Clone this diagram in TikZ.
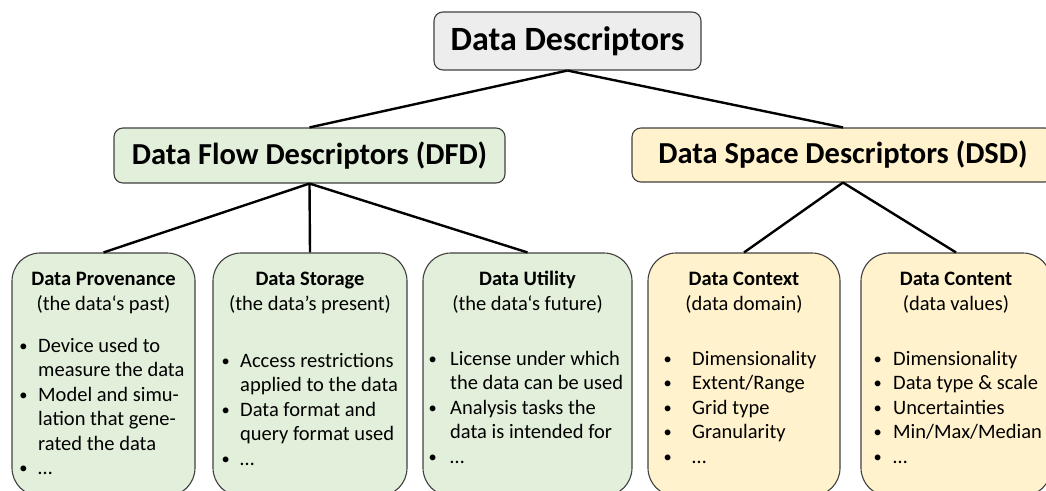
\documentclass[tikz,border=0pt]{standalone}
\usepackage{fontspec}
\setmainfont{Carlito}
\definecolor{gfill}{HTML}{E2EFDA}
\definecolor{yfill}{HTML}{FFF2CC}
\definecolor{tfill}{HTML}{EDEDED}
\definecolor{edge}{HTML}{404040}
\newlength{\bwid}
\newcommand{\blist}[2]{\setlength{\bwid}{#1}\begin{tabular}[t]{@{}l@{}l@{}}#2\end{tabular}}
\newcommand{\bl}{\makebox[\bwid][l]{\raisebox{0.6pt}{\scalebox{0.8}{•}}}}
\tikzset{
  box/.style={draw=edge, line width=1.1pt, inner sep=0pt},
  bigbox/.style={box, rounded corners=9pt},
  leafbox/.style={box, rounded corners=28pt},
  conn/.style={draw=black, line width=2.4pt},
  bigtxt/.style={font=\fontsize{30.5}{36}\selectfont\bfseries},
  toptxt/.style={font=\fontsize{34}{40}\selectfont\bfseries},
  ttl/.style={anchor=base, inner sep=0pt, font=\fontsize{20.5}{24.5}\selectfont\bfseries},
  sub/.style={anchor=base, inner sep=0pt, font=\fontsize{20.5}{24.5}\selectfont},
  items/.style={anchor=base west, inner sep=0pt, font=\fontsize{20.5}{24.5}\selectfont}
}
\begin{document}
\begin{tikzpicture}[x=1pt,y=-1pt]
\useasboundingbox (0,0) rectangle (1046,490);
% boxes
\node[bigbox, fill=tfill, minimum width=267pt, minimum height=58pt, toptxt] (top) at (567.5,41) {Data Descriptors};
\node[bigbox, fill=gfill, minimum width=391pt, minimum height=55pt, bigtxt] (dfd) at (309.5,155.5) {Data Flow Descriptors (DFD)};
\node[bigbox, fill=yfill, minimum width=422pt, minimum height=54pt, bigtxt] (dsd) at (843,155) {Data Space Descriptors (DSD)};
\node[leafbox, fill=gfill, minimum width=183pt, minimum height=243pt] (prov) at (103.5,374.5) {};
\node[leafbox, fill=gfill, minimum width=194pt, minimum height=243pt] (stor) at (310,374.5) {};
\node[leafbox, fill=gfill, minimum width=209pt, minimum height=243pt] (util) at (527.5,374.5) {};
\node[leafbox, fill=yfill, minimum width=192pt, minimum height=243pt] (ctx) at (744,374.5) {};
\node[leafbox, fill=yfill, minimum width=190pt, minimum height=243pt] (cont) at (956,374.5) {};
% connectors
\draw[conn] (top.south) -- (dfd.north);
\draw[conn] (top.south) -- (dsd.north);
\draw[conn] (dfd.south) -- (prov.north);
\draw[conn] (dfd.south) -- (stor.north);
\draw[conn] (dfd.south) -- (util.north);
\draw[conn] (dsd.south) -- (ctx.north);
\draw[conn] (dsd.south) -- (cont.north);
% titles
\node[ttl] (provT) at (103.5,285) {Data Provenance};
\node[sub] (provS) at (103.5,310) {(the data‘s past)};
\node[ttl] (storT) at (310,285) {Data Storage};
\node[sub] (storS) at (310,310) {(the data’s present)};
\node[ttl] (utilT) at (527.5,285) {Data Utility};
\node[sub] (utilS) at (527.5,310) {(the data‘s future)};
\node[ttl] (ctxT) at (744,285) {Data Context};
\node[sub] (ctxS) at (744,310) {(data domain)};
\node[ttl] (contT) at (956,285) {Data Content};
\node[sub] (contS) at (956,310) {(data values)};
% item lists
\node[items] (provL) at (19.3,352) {\blist{18.7pt}{\bl & Device used to\\ & measure the data\\ \bl & Model and simu-\\ & lation that gene-\\ & rated the data\\ \bl & …}};
\node[items] (storL) at (221.3,367) {\blist{18.7pt}{\bl & Access restrictions\\ & applied to the data\\ \bl & Data format and\\ & query format used\\ \bl & …}};
\node[items] (utilL) at (428.3,365) {\blist{21.7pt}{\bl & License under which\\ & the data can be used\\ \bl & Analysis tasks the\\ & data is intended for\\ \bl & …}};
\node[items] (ctxL) at (663.3,365) {\blist{28.7pt}{\bl & Dimensionality\\ \bl & Extent/Range\\ \bl & Grid type\\ \bl & Granularity\\ \bl & …}};
\node[items] (contL) at (873.3,365) {\blist{19.7pt}{\bl & Dimensionality\\ \bl & Data type \& scale\\ \bl & Uncertainties\\ \bl & Min/Max/Median\\ \bl & …}};
\end{tikzpicture}
\end{document}
